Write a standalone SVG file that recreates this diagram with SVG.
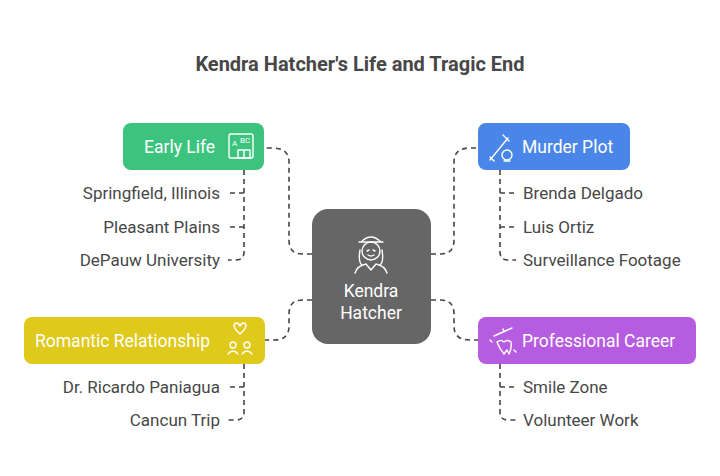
<svg xmlns="http://www.w3.org/2000/svg" width="720" height="476" viewBox="0 0 720 476">
<style>
text{font-family:Roboto,"Liberation Sans",sans-serif}
.t{font-size:20px;font-weight:bold;fill:#474747}
.h{font-size:17.5px;fill:#fff}
.i{font-size:17px;fill:#474747}
.c{fill:none;stroke:#444;stroke-width:1.6;stroke-dasharray:5 4}
.ic{fill:none;stroke:#fff;stroke-width:1.4;stroke-linecap:round;stroke-linejoin:round}
</style>
<rect width="720" height="476" fill="#fff"/>
<text class="t" x="360" y="71" text-anchor="middle">Kendra Hatcher's Life and Tragic End</text>
<g id="connectors">
<path class="c" d="M312,254 H302 Q289,254 289,240 V162 Q289,148 272,148 H264"/>
<path class="c" d="M431,254 H441 Q454,254 454,240 V162 Q454,148 470,148 H478"/>
<path class="c" d="M312,300 H302 Q289,300 289,314 V326 Q289,340 274,340 H265"/>
<path class="c" d="M431,300 H441 Q454,300 454,314 V326 Q454,340 470,340 H478"/>
<path class="c" d="M244,170 V252 Q244,260 236,260 H228 M244,193 H228 M244,227 H228"/>
<path class="c" d="M500,170 V252 Q500,260 508,260 H516 M500,193 H516 M500,227 H516"/>
<path class="c" d="M244,364 V412 Q244,420 236,420 H228 M244,387 H228"/>
<path class="c" d="M500,364 V412 Q500,420 508,420 H516 M500,387 H516"/>
</g>
<g id="center">
<rect x="312" y="209" width="119" height="135" rx="16" fill="#666"/>
<g class="ic">
<path d="M361,242 Q371,232 381,242 Z M359,242 H383"/>
<circle cx="371" cy="251" r="9"/>
<path d="M360,250 Q358,262 362,265 M382,250 Q384,262 380,265"/>
<path d="M355,273 Q357,266 366,264 L371,270 L376,264 Q385,266 387,273"/>
<path d="M367,251 l2,-1 M373,250 l2,1 M368,255 Q371,257 374,255"/>
</g>
<text class="h" x="371" y="297" text-anchor="middle">Kendra</text>
<text class="h" x="371" y="319" text-anchor="middle">Hatcher</text>
</g>
<g id="early-life">
<rect x="123" y="123" width="141" height="47" rx="8" fill="#3cc47f"/>
<text class="h" x="144" y="153">Early Life</text>
<g class="ic"><rect x="229" y="134" width="24" height="24" rx="2"/><path d="M238,150 h12 v8 h-12 z M244,150 v8"/></g>
<text x="232" y="146" font-size="8" fill="#fff">A</text><text x="240" y="143" font-size="8" fill="#fff">BC</text>
<text class="i" x="220" y="199" text-anchor="end">Springfield, Illinois</text>
<text class="i" x="220" y="233" text-anchor="end">Pleasant Plains</text>
<text class="i" x="220" y="266" text-anchor="end">DePauw University</text>
</g>
<g id="murder-plot">
<rect x="478" y="123" width="152" height="47" rx="8" fill="#4a86e8"/>
<g class="ic"><path d="M490,160 L508,138 M494,161 l-4,-4 M503,135 l6,6"/><circle cx="507" cy="155" r="5"/><path d="M504,161 h6"/></g>
<text class="h" x="522" y="153">Murder Plot</text>
<text class="i" x="523" y="199">Brenda Delgado</text>
<text class="i" x="523" y="233">Luis Ortiz</text>
<text class="i" x="523" y="266">Surveillance Footage</text>
</g>
<g id="romantic-relationship">
<rect x="24" y="317" width="241" height="47" rx="8" fill="#dfc91b"/>
<text class="h" x="35" y="347">Romantic Relationship</text>
<g class="ic"><path d="M236,330 q-4,-5 0,-7 q3,0 4,3 q1,-3 4,-3 q4,2 0,7 l-4,4 z"/><circle cx="233" cy="345" r="3"/><circle cx="247" cy="345" r="3"/><path d="M228,354 q5,-6 10,0 M242,354 q5,-6 10,0"/></g>
<text class="i" x="220" y="393" text-anchor="end">Dr. Ricardo Paniagua</text>
<text class="i" x="220" y="426" text-anchor="end">Cancun Trip</text>
</g>
<g id="professional-career">
<rect x="478" y="317" width="218" height="47" rx="8" fill="#b65ce0"/>
<g class="ic"><path d="M494,336 l18,-8 M504,332 l-1,-3"/><path d="M497,342 q4,-3 7,0 q3,-3 7,0 q1,6 -2,12 l-2,-4 l-3,4 q-5,-6 -7,-12 z"/><path d="M490,340 l2,2 M514,350 l2,2"/></g>
<text class="h" x="522" y="347">Professional Career</text>
<text class="i" x="523" y="393">Smile Zone</text>
<text class="i" x="523" y="426">Volunteer Work</text>
</g>
</svg>
